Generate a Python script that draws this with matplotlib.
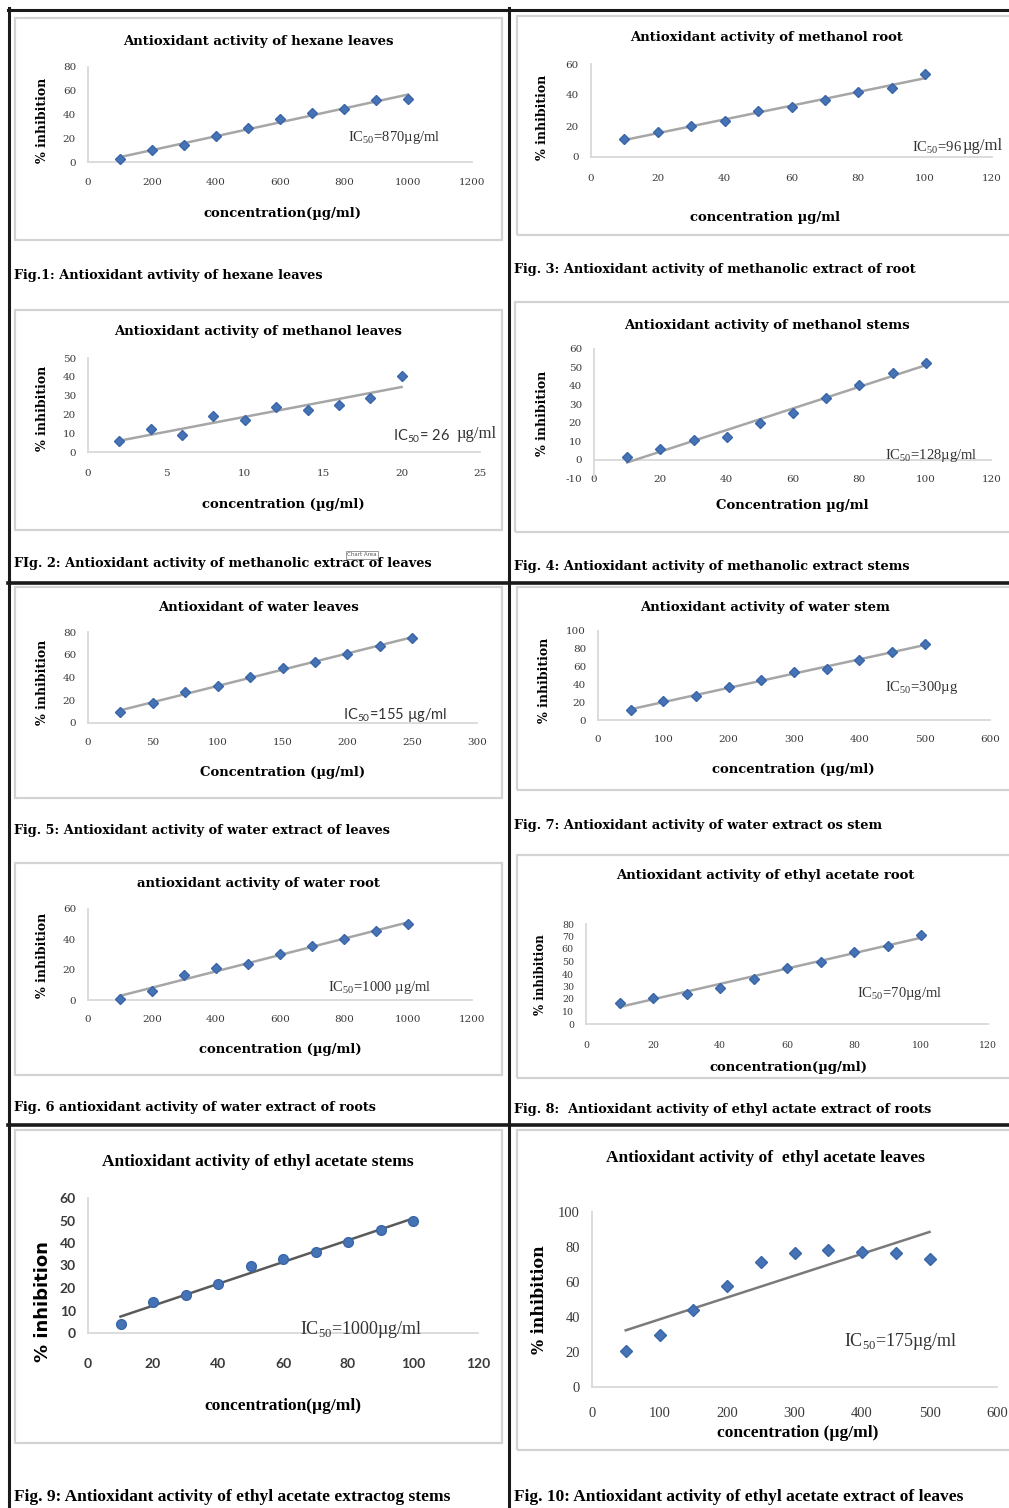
import numpy as np
import matplotlib.pyplot as plt
from matplotlib.patches import Rectangle
from matplotlib.lines import Line2D

plt.rcParams['mathtext.fontset'] = 'custom'
plt.rcParams['mathtext.rm'] = 'Liberation Serif'
plt.rcParams['mathtext.sf'] = 'Lato'
plt.rcParams['axes.unicode_minus'] = False

# data
hex_leaves_conc = [100, 200, 300, 400, 500, 600, 700, 800, 900, 1000]
hex_leaves_inh = [2.8, 9.8, 14.6, 21.6, 28.7, 36, 41.3, 45, 52, 53]

meth_leaves_conc = [2, 4, 6, 8, 10, 12, 14, 16, 18, 20]
meth_leaves_inh = [5.9, 12, 8.9, 19, 16.8, 24.1, 22.3, 24.8, 28.9, 40.2]

meth_root_conc = [10, 20, 30, 40, 50, 60, 70, 80, 90, 100]
meth_root_inh = [11.6, 16.1, 19.8, 23, 29.5, 32.3, 36.6, 42, 44.7, 53.5]

meth_stem_conc = [10, 20, 30, 40, 50, 60, 70, 80, 90, 100]
meth_stem_inh = [1.3, 5.8, 10.4, 12.5, 19.6, 25.1, 33.5, 40.7, 47.1, 52.2]

water_leaves_conc = [25, 50, 75, 100, 125, 150, 175, 200, 225, 250]
water_leaves_inh = [9.4, 17.7, 27.1, 32.7, 40.4, 48.4, 54, 61, 67.6, 74.6]

water_root_conc = [100, 200, 300, 400, 500, 600, 700, 800, 900, 1000]
water_root_inh = [0.7, 5.8, 16.6, 21, 23.9, 30.5, 35.6, 40.5, 45.4, 49.8]

water_stem_conc = [50, 100, 150, 200, 250, 300, 350, 400, 450, 500]
water_stem_inh = [11.2, 21.6, 26.5, 36.9, 45.5, 53.7, 57, 67.5, 76.5, 85]

ea_root_conc = [10, 20, 30, 40, 50, 60, 70, 80, 90, 100]
ea_root_inh = [17, 21, 24.2, 29, 36.2, 44.7, 49.7, 57.4, 62.8, 71]

ea_stem_conc = [10, 20, 30, 40, 50, 60, 70, 80, 90, 100]
ea_stem_inh = [3.8, 13.9, 16.9, 21.9, 29.6, 32.8, 36.2, 40.6, 45.7, 49.6]

ea_leaves_conc = [50, 100, 150, 200, 250, 300, 350, 400, 450, 500]
ea_leaves_inh = [20.8, 29.7, 44, 57.7, 71.4, 76.6, 78.1, 77, 76.6, 73.1]

W, H = 1009, 1508
fig = plt.figure(figsize=(W / 100, H / 100), dpi=100)
fig.patch.set_facecolor('white')

PT = 0.72  # points per pixel at dpi 100
WIDE = 'DejaVu Serif'
TIMES = 'Liberation Serif'


def ftext(x, y, s, **kw):
    kw.setdefault('va', 'center')
    fig.text(x / W, 1 - y / H, s, **kw)


def hline(x0, x1, y, lw=2.2, color='#1a1a1a'):
    fig.add_artist(Line2D([x0 / W, x1 / W], [1 - y / H, 1 - y / H],
                          transform=fig.transFigure, color=color, lw=lw))


def vline(x, y0, y1, lw=2.2, color='#1a1a1a'):
    fig.add_artist(Line2D([x / W, x / W], [1 - y0 / H, 1 - y1 / H],
                          transform=fig.transFigure, color=color, lw=lw))


def box(x0, y0, x1, y1):
    fig.add_artist(Rectangle((x0 / W, 1 - y1 / H), (x1 - x0) / W, (y1 - y0) / H,
                             transform=fig.transFigure, fill=False,
                             edgecolor='#d3d3d3', lw=1.6))


def chart(conc, inh, rect, xlim, xstep, ylim, ystep, xoff, font=WIDE, tfs=7.5,
          tweight='normal', tfam=None, trend='#a6a6a6', marker='D', ms=5.5,
          zero_line=False):
    x0, x1, ytop, ybot = rect
    ax = fig.add_axes([x0 / W, 1 - ybot / H, (x1 - x0) / W, (ybot - ytop) / H])
    ax.set_xlim(*xlim)
    ax.set_ylim(*ylim)
    ax.set_xticks(np.arange(xlim[0], xlim[1] + xstep / 2, xstep))
    ax.set_yticks(np.arange(ylim[0], ylim[1] + ystep / 2, ystep))
    for s in ['top', 'right']:
        ax.spines[s].set_visible(False)
    ax.spines['left'].set_color('#d9d9d9')
    ax.spines['bottom'].set_color('#d9d9d9')
    ax.spines['left'].set_linewidth(1.3)
    ax.spines['bottom'].set_linewidth(1.3)
    if zero_line:
        ax.spines['bottom'].set_visible(False)
        ax.axhline(0, color='#d9d9d9', lw=1.3, zorder=0)
    em = tfs / PT
    ax.tick_params(axis='x', length=0, pad=(xoff - 0.57 * em) * PT,
                   labelsize=tfs, labelcolor='#3a3a3a')
    ax.tick_params(axis='y', length=0, pad=12 * PT, labelsize=tfs,
                   labelcolor='#3a3a3a')
    for lab in ax.get_xticklabels() + ax.get_yticklabels():
        lab.set_fontfamily(tfam or font)
        lab.set_fontweight(tweight)
    ax.patch.set_alpha(0)
    # linear trend line over the data range
    k, b = np.polyfit(conc, inh, 1)
    xs = np.array([conc[0], conc[-1]])
    ax.plot(xs, k * xs + b, color=trend, lw=1.8, zorder=2, clip_on=False)
    ax.plot(conc, inh, linestyle='none', marker=marker, ms=ms, color='#4573b5',
            mec='#3a66a8', zorder=3, clip_on=False)
    return ax


# frame lines
vline(9, 8, H + 5)
vline(509, 8, H + 5)
hline(8, W + 5, 10)
hline(8, W + 5, 583, lw=2.6)
hline(8, W + 5, 1125, lw=2.6)

# chart area boxes
box(15, 18, 502, 240)
box(517, 16, W + 5, 235)
box(15, 310, 502, 530)
box(515, 302, W + 5, 532)
box(15, 587, 502, 798)
box(517, 587, W + 5, 790)
box(15, 863, 502, 1075)
box(517, 855, W + 5, 1078)
box(15, 1130, 502, 1443)
box(517, 1130, W + 5, 1450)

TS = 9.5   # title size (wide style)
CS = 9.3   # caption size
LS = 9.5   # axis label size
YS = 9.0

# ---- Fig.1 hexane leaves
chart(hex_leaves_conc, hex_leaves_inh, (88, 472, 67, 162), (0, 1200), 200, (0, 80), 20, 22)
ftext(258, 41, 'Antioxidant activity of hexane leaves', ha='center', family=WIDE, weight='bold', size=TS)
ftext(282, 213, 'concentration(µg/ml)', ha='center', family=WIDE, weight='bold', size=LS)
ftext(43, 120, '% inhibition', ha='center', rotation=90, family=WIDE, weight='bold', size=YS)
ftext(348, 138, r'IC$_{50}$=870µg/ml', ha='left', family=TIMES, size=10.5, color='#333333')
ftext(14, 276, 'Fig.1: Antioxidant avtivity of hexane leaves', ha='left', family=WIDE, weight='bold', size=CS)

# ---- Fig.3 methanol root
chart(meth_root_conc, meth_root_inh, (591, 992, 64, 157), (0, 120), 20, (0, 60), 20, 23)
ftext(767, 38, 'Antioxidant activity of methanol root', ha='center', family=WIDE, weight='bold', size=TS)
ftext(765, 217, 'concentration µg/ml', ha='center', family=WIDE, weight='bold', size=LS)
ftext(543, 117, '% inhibition', ha='center', rotation=90, family=WIDE, weight='bold', size=YS)
ftext(912, 148, r'IC$_{50}$=96', ha='left', family=TIMES, size=10.5, color='#333333')
ftext(963, 146, 'µg/ml', ha='left', family=TIMES, size=12, color='#333333')
ftext(514, 269, 'Fig. 3: Antioxidant activity of methanolic extract of root', ha='left', family=WIDE, weight='bold', size=CS)

# ---- Fig.2 methanol leaves
chart(meth_leaves_conc, meth_leaves_inh, (88, 480, 358, 452), (0, 25), 5, (0, 50), 10, 23)
ftext(258, 332, 'Antioxidant activity of methanol leaves', ha='center', family=WIDE, weight='bold', size=TS)
ftext(283, 504, 'concentration (µg/ml)', ha='center', family=WIDE, weight='bold', size=LS)
ftext(43, 408, '% inhibition', ha='center', rotation=90, family=WIDE, weight='bold', size=YS)
ftext(393, 436, r'IC$_{\mathsf{50}}$= 26', ha='left', family='Lato', size=10.5, color='#333333')
ftext(457, 434, 'µg/ml', ha='left', family=TIMES, size=12, color='#333333')
ftext(14, 564, 'FIg. 2: Antioxidant activity of methanolic extract of leaves', ha='left', family=WIDE, weight='bold', size=CS)
fig.text(362 / W, 1 - 555 / H, 'Chart Area', ha='center', va='center', size=4, family='DejaVu Sans',
         color='#555555', bbox=dict(boxstyle='square,pad=0.3', fc='white', ec='#888888', lw=0.6))

# ---- Fig.4 methanol stems
chart(meth_stem_conc, meth_stem_inh, (594, 992, 349, 478), (0, 120), 20, (-10, 60), 10, 3, zero_line=True)
ftext(767, 325, 'Antioxidant activity of methanol stems', ha='center', family=WIDE, weight='bold', size=TS)
ftext(792, 506, 'Concentration µg/ml', ha='center', family=WIDE, weight='bold', size=LS)
ftext(543, 413, '% inhibition', ha='center', rotation=90, family=WIDE, weight='bold', size=YS)
ftext(885, 455, r'IC$_{50}$=128µg/ml', ha='left', family=TIMES, size=10.5, color='#333333')
ftext(514, 566, 'Fig. 4: Antioxidant activity of methanolic extract stems', ha='left', family=WIDE, weight='bold', size=CS)

# ---- Fig.5 water leaves
chart(water_leaves_conc, water_leaves_inh, (88, 477, 632, 723), (0, 300), 50, (0, 80), 20, 21)
ftext(258, 607, 'Antioxidant of water leaves', ha='center', family=WIDE, weight='bold', size=TS)
ftext(283, 772, 'Concentration (µg/ml)', ha='center', family=WIDE, weight='bold', size=LS)
ftext(43, 682, '% inhibition', ha='center', rotation=90, family=WIDE, weight='bold', size=YS)
ftext(343, 715, r'IC$_{\mathsf{50}}$=155 µg/ml', ha='left', family='Lato', size=10.5, color='#333333')
ftext(14, 831, 'Fig. 5: Antioxidant activity of water extract of leaves', ha='left', family=WIDE, weight='bold', size=CS)

# ---- Fig.7 water stem
chart(water_stem_conc, water_stem_inh, (598, 990, 631, 720), (0, 600), 100, (0, 100), 20, 21)
ftext(765, 607, 'Antioxidant activity of water stem', ha='center', family=WIDE, weight='bold', size=TS)
ftext(793, 769, 'concentration (µg/ml)', ha='center', family=WIDE, weight='bold', size=LS)
ftext(545, 680, '% inhibition', ha='center', rotation=90, family=WIDE, weight='bold', size=YS)
ftext(885, 687, r'IC$_{50}$=300µg', ha='left', family=TIMES, size=10.5, color='#333333')
ftext(514, 825, 'Fig. 7: Antioxidant activity of water extract os stem', ha='left', family=WIDE, weight='bold', size=CS)

# ---- Fig.6 water root
chart(water_root_conc, water_root_inh, (88, 472, 909, 1000), (0, 1200), 200, (0, 60), 20, 21)
ftext(258, 884, 'antioxidant activity of water root', ha='center', family=WIDE, weight='bold', size=TS)
ftext(280, 1049, 'concentration (µg/ml)', ha='center', family=WIDE, weight='bold', size=LS)
ftext(43, 955, '% inhibition', ha='center', rotation=90, family=WIDE, weight='bold', size=YS)
ftext(328, 987, r'IC$_{50}$=1000 µg/ml', ha='left', family=TIMES, size=10.5, color='#333333')
ftext(14, 1108, 'Fig. 6 antioxidant activity of water extract of roots', ha='left', family=WIDE, weight='bold', size=CS)

# ---- Fig.8 ethyl acetate root
chart(ea_root_conc, ea_root_inh, (586, 988, 924, 1024), (0, 120), 20, (0, 80), 10, 22, tfs=6.8)
ftext(765, 875, 'Antioxidant activity of ethyl acetate root', ha='center', family=WIDE, weight='bold', size=TS)
ftext(788, 1067, 'concentration(µg/ml)', ha='center', family=WIDE, weight='bold', size=LS)
ftext(541, 975, '% inhibition', ha='center', rotation=90, family=WIDE, weight='bold', size=8.5)
ftext(857, 994, r'IC$_{50}$=70µg/ml', ha='left', family=TIMES, size=10.5, color='#333333')
ftext(514, 1110, 'Fig. 8:  Antioxidant activity of ethyl actate extract of roots', ha='left', family=WIDE, weight='bold', size=CS)

# ---- Fig.9 ethyl acetate stems
chart(ea_stem_conc, ea_stem_inh, (88, 478, 1198, 1333), (0, 120), 20, (0, 60), 10, 33,
      font=TIMES, tfs=10, tweight='bold', tfam='Lato', trend='#5a5a5a', marker='o', ms=7)
ftext(258, 1162, 'Antioxidant activity of ethyl acetate stems', ha='center', family=TIMES, weight='bold', size=12.5)
ftext(283, 1406, 'concentration(µg/ml)', ha='center', family=TIMES, weight='bold', size=12.5)
ftext(43, 1302, '% inhibition', ha='center', rotation=90, family='DejaVu Sans', weight='bold', size=13)
ftext(300, 1330, r'IC$_{50}$=1000µg/ml', ha='left', family=TIMES, size=13, color='#333333')
ftext(14, 1497, 'Fig. 9: Antioxidant activity of ethyl acetate extractog stems', ha='left', family=TIMES, weight='bold', size=12.5)

# ---- Fig.10 ethyl acetate leaves
chart(ea_leaves_conc, ea_leaves_inh, (592, 997, 1212, 1387), (0, 600), 100, (0, 100), 20, 28,
      font=TIMES, tfs=10.5, trend='#7a7a7a', ms=6.5)
ftext(765, 1158, 'Antioxidant activity of  ethyl acetate leaves', ha='center', family=TIMES, weight='bold', size=12.5)
ftext(798, 1433, 'concentration (µg/ml)', ha='center', family=TIMES, weight='bold', size=12.5)
ftext(540, 1300, '% inhibition', ha='center', rotation=90, family=WIDE, weight='bold', size=11.5)
ftext(844, 1342, r'IC$_{50}$=175µg/ml', ha='left', family=TIMES, size=13, color='#333333')
ftext(514, 1497, 'Fig. 10: Antioxidant activity of ethyl acetate extract of leaves', ha='left', family=TIMES, weight='bold', size=12.5)

fig.savefig('out.png', dpi=100)
